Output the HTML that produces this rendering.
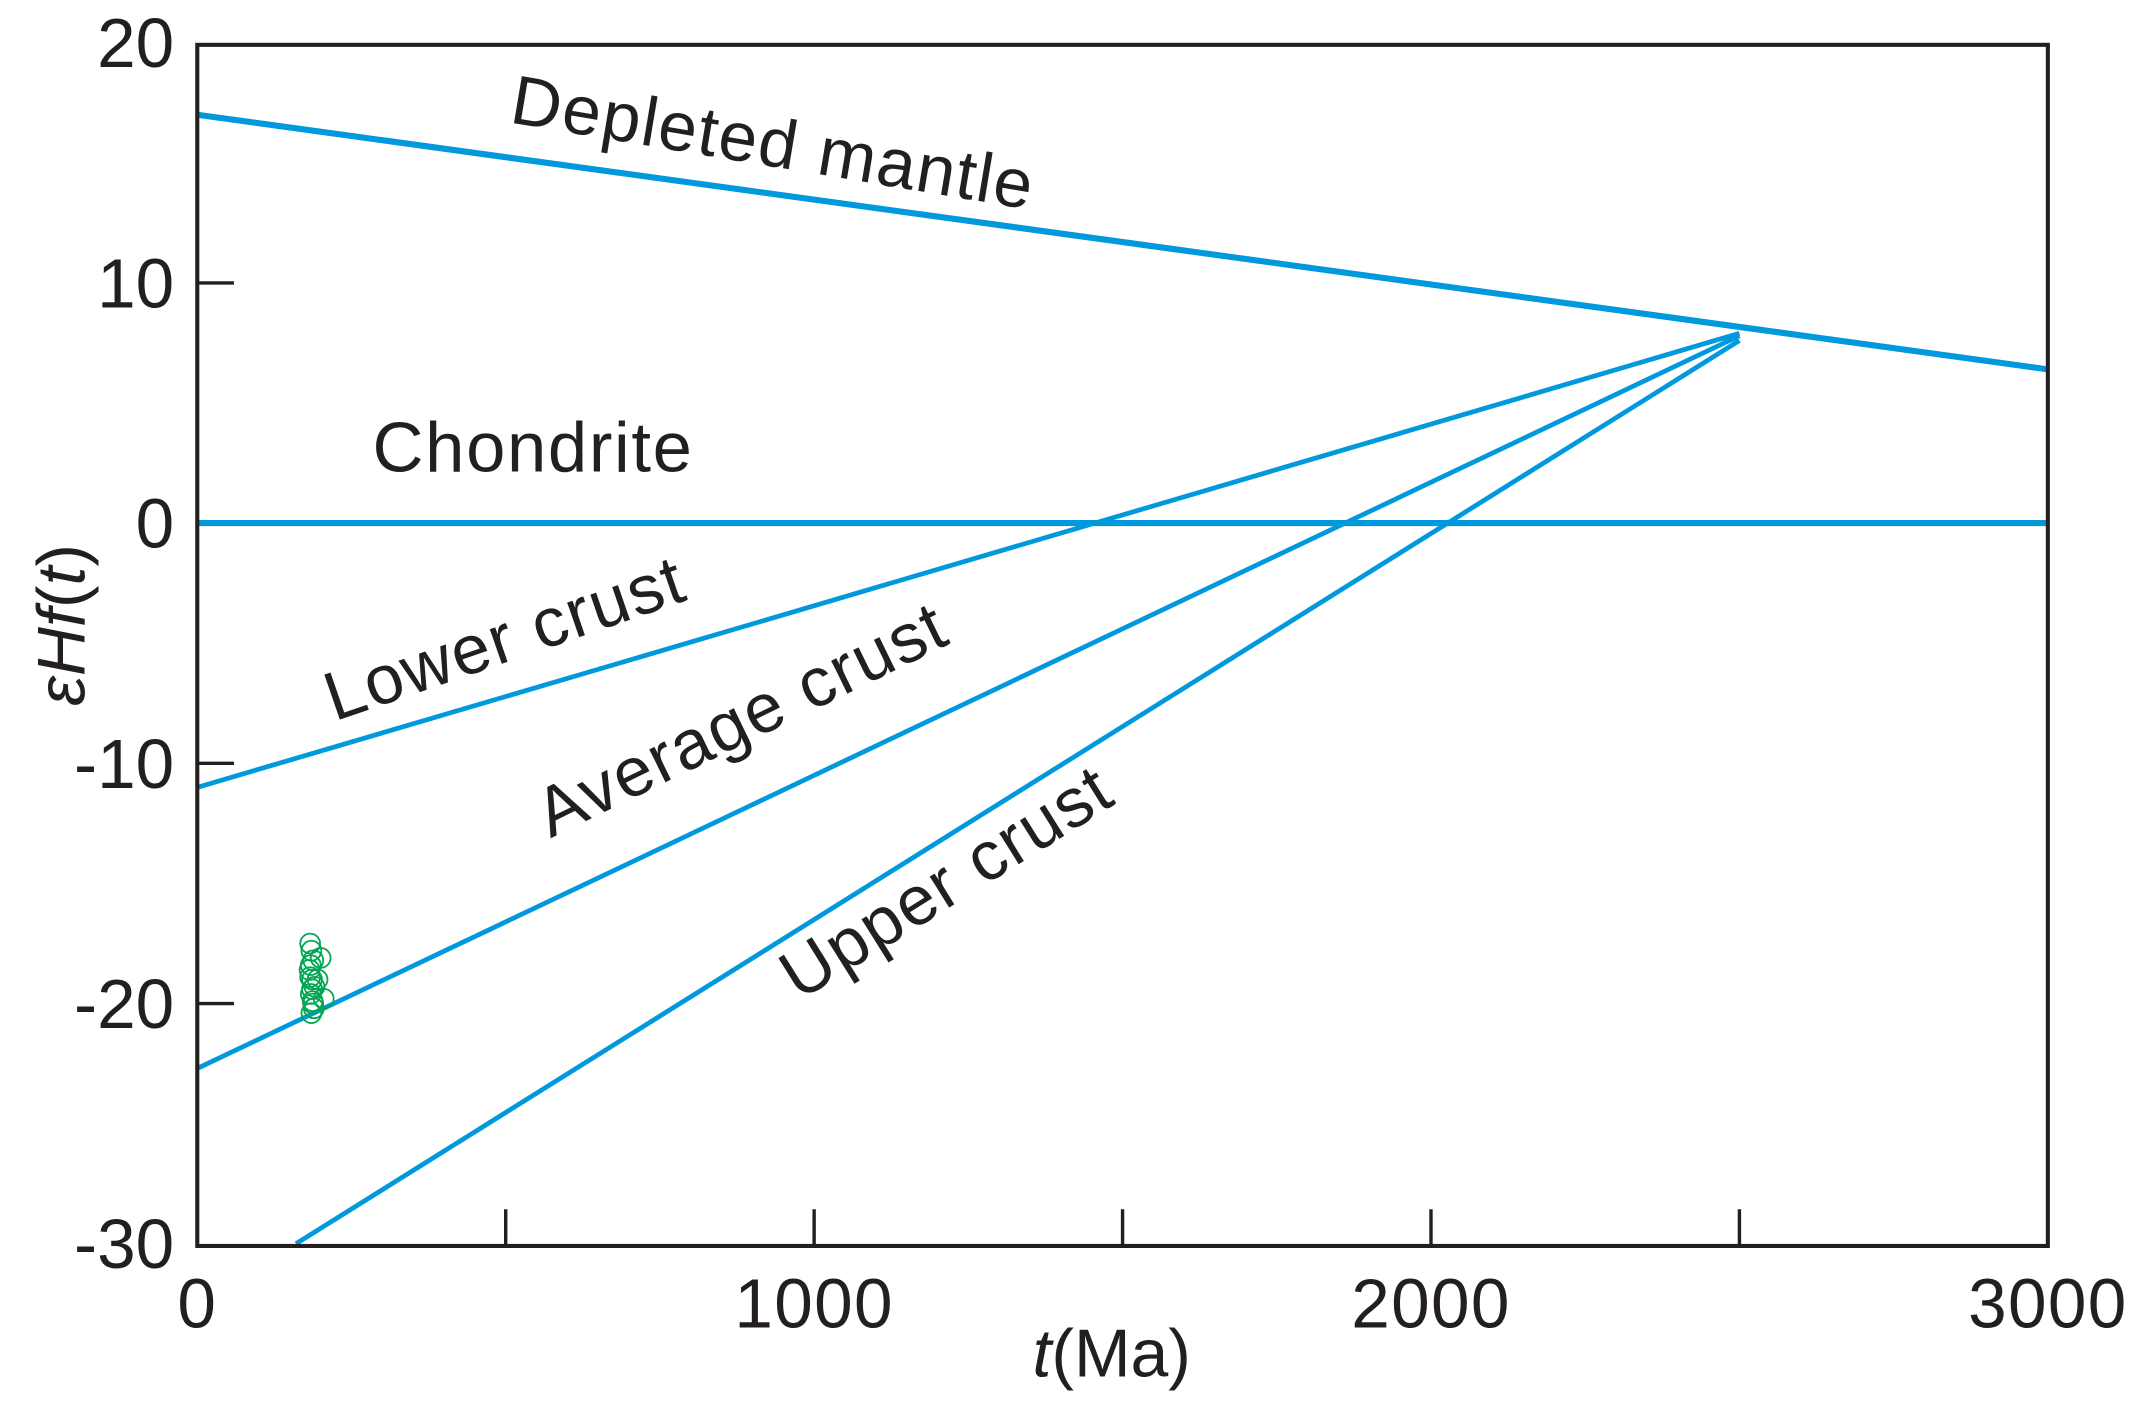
<!DOCTYPE html>
<html><head><meta charset="utf-8"><style>
html,body{margin:0;padding:0;background:#fff;}
svg{display:block;font-family:"Liberation Sans",sans-serif;}
</style></head><body>
<svg id="chart" width="2131" height="1409" viewBox="0 0 1568 1037" xmlns="http://www.w3.org/2000/svg">
<g id="marks"></g>
<rect x="145" y="33" width="1362" height="884" fill="none" stroke="#231f20" stroke-width="3"/>
<g id="axes"></g>
<text x="374" y="90" font-size="51" letter-spacing="1.2" fill="#231f20" transform="rotate(9.5 374 90)">Depleted mantle</text>
<text x="274" y="347" font-size="52" letter-spacing="1.2" fill="#231f20">Chondrite</text>
<text x="246" y="531" font-size="51" letter-spacing="1.2" fill="#231f20" transform="rotate(-19 246 531)">Lower crust</text>
<text x="405" y="617" font-size="51" letter-spacing="1.2" fill="#231f20" transform="rotate(-26 405 617)">Average crust</text>
<text x="588" y="737" font-size="51" letter-spacing="1.2" fill="#231f20" transform="rotate(-32 588 737)">Upper crust</text>
<text x="818" y="1013" font-size="50" text-anchor="middle" fill="#231f20"><tspan font-style="italic">t</tspan>(Ma)</text>
<text x="0" y="0" font-size="50" text-anchor="middle" fill="#231f20" transform="translate(62 460) rotate(-90)"><tspan font-style="italic">εHf</tspan>(<tspan font-style="italic">t</tspan>)</text>
</svg>
<script>
const xTicks=[0,1000,2000,3000];
const xMinor=[500,1500,2500];
const yTicks=[20,10,0,-10,-20,-30];
const lineNames=['depleted-mantle','chondrite','lower-crust','average-crust','upper-crust'];
const lineT0=[0,0,0,0,160];
const lineE0=[17,0,-11,-22.7,-30];
const lineT1=[3000,3000,2500,2500,2500];
const lineE1=[6.4,0,7.9,7.8,7.6];
const sampleT=[183,185,188,182,186,190,184,187,189,185,183,186,200,205,195,188,184];
const sampleE=[-17.5,-17.8,-18.2,-18.6,-19.0,-19.3,-19.6,-19.9,-20.2,-20.4,-18.9,-19.4,-18.1,-19.8,-19.0,-20.0,-18.4];
const X=t=>145+t/3000*1362;
const Y=e=>385-e*(884/50);
const NS='http://www.w3.org/2000/svg';
const marks=document.getElementById('marks'),axes=document.getElementById('axes');
function mk(tag,attrs,parent){const el=document.createElementNS(NS,tag);for(const k in attrs)el.setAttribute(k,attrs[k]);parent.appendChild(el);return el;}
lineNames.forEach((n,i)=>{
  const el=mk('line',{x1:X(lineT0[i]),y1:Y(lineE0[i]),x2:X(lineT1[i]),y2:Y(lineE1[i]),stroke:'#0099dd','stroke-width':(i<2?4.5:3.5)},marks);
  
  
});
sampleT.forEach((t,i)=>{
  const c=mk('circle',{cx:X(t),cy:Y(sampleE[i]),r:7.3,fill:'none',stroke:'#00a651','stroke-width':1.3},marks);
  
  
});
xTicks.forEach(v=>{
  const t=mk('text',{x:X(v),y:977,'font-size':51,'letter-spacing':1,'text-anchor':'middle',fill:'#231f20'},axes);t.textContent=v;
  
  
});
xTicks.concat(xMinor).forEach(v=>{
  if(v===0||v===3000)return;
  const l=mk('line',{x1:X(v),y1:917,x2:X(v),y2:890,stroke:'#231f20','stroke-width':2.5},axes);
  
  
});
yTicks.forEach(v=>{
  const t=mk('text',{x:128,y:Y(v)+18,'font-size':51,'text-anchor':'end',fill:'#231f20'},axes);t.textContent=v;
  
  
  if(v!==20&&v!==-30&&v!==0){
    const l=mk('line',{x1:145,y1:Y(v),x2:172,y2:Y(v),stroke:'#231f20','stroke-width':2.5},axes);
    
    
  }
});
</script>
</body></html>
